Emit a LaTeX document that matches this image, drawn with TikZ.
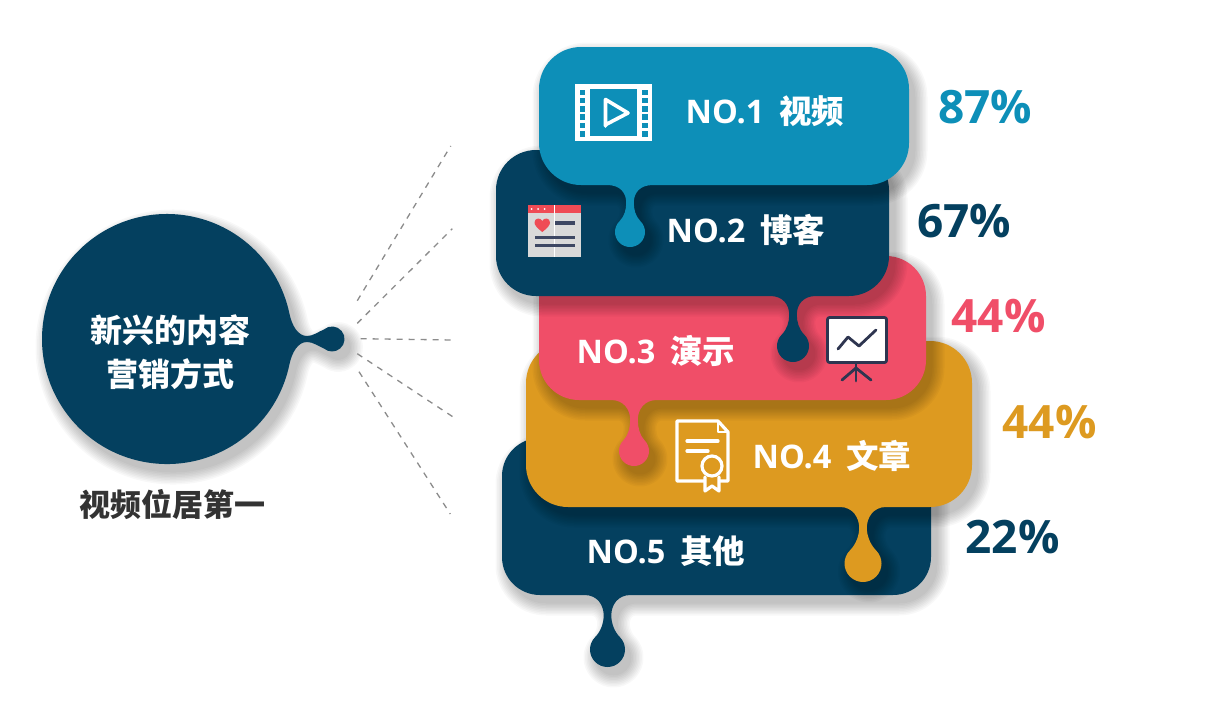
\documentclass[tikz,border=0pt]{standalone}
\usepackage{fontspec}
\setmainfont{Open Sans}
\newfontfamily\cjk{Noto Sans CJK SC}
\usetikzlibrary{calc}
\definecolor{teal1}{HTML}{0D8FB8}
\definecolor{navy1}{HTML}{04405F}
\definecolor{rose1}{HTML}{F04E68}
\definecolor{gold1}{HTML}{DD9A20}
\definecolor{inkd}{HTML}{2E3550}
\definecolor{blogline}{HTML}{3D4763}
\definecolor{blogred}{HTML}{EF4B55}
\definecolor{bloggray}{HTML}{D9D9D9}
\tikzset{
  x=1pt,y=-1pt,
  guide/.style={draw=black!45,line width=1.3pt,dash pattern=on 6pt off 6pt},
  rowlabel/.style={anchor=base west,inner sep=0pt,text=white,font=\bfseries\fontsize{32.5}{32.5}\selectfont},
  pct/.style={anchor=base,inner sep=0pt,font=\bfseries\fontsize{46}{46}\selectfont},
  lefttext/.style={inner sep=0pt,font=\cjk\bfseries\fontsize{32}{32}\selectfont},
  iconw/.style={draw=white,line width=3.2pt,line cap=round,line join=round},
  icond/.style={draw=inkd,line width=2.8pt,line cap=round,line join=round},
}
% bubble: x1 y1 x2 y2 r dropx dropr dropcy colour
\newcommand\bubblepath{%
  (\xa+\rr,\ya) -- (\xb-\rr,\ya) arc[start angle=-90,end angle=0,radius=\rr]
  -- (\xb,\yb-\rr) arc[start angle=0,end angle=90,radius=\rr]
  -- ({\dx+23},\yb) .. controls ({\dx+10},\yb) and ({\dx+\nk},{\nky-10}) .. ({\dx+\nk},\nky)
  .. controls ({\dx+\nk},{\nky+7}) and ({\dx+.36*\dr},{\cy-1.06*\dr}) .. ({\dx+.707*\dr},{\cy-.707*\dr})
  arc[start angle=-45,end angle=225,radius=\dr]
  .. controls ({\dx-.36*\dr},{\cy-1.06*\dr}) and ({\dx-\nk},{\nky+7}) .. ({\dx-\nk},\nky)
  .. controls ({\dx-\nk},{\nky-10}) and ({\dx-10},\yb) .. ({\dx-23},\yb)
  -- (\xa+\rr,\yb) arc[start angle=90,end angle=180,radius=\rr]
  -- (\xa,\ya+\rr) arc[start angle=180,end angle=270,radius=\rr] -- cycle}
\newcommand\softshadow[1]{%
  \foreach \w in {1,4,7,10,13,16,19,22,25}{%
    \begin{scope}[shift={(6,8)},transparency group,opacity=.028]
      \filldraw[black,line width=\w pt,line join=round] #1;
    \end{scope}}}
\newcommand\bubble[9]{%
  \def\xa{#1}\def\ya{#2}\def\xb{#3}\def\yb{#4}\def\rr{#5}\def\dx{#6}\def\dr{#7}\def\cy{#8}\def\nk{3.8}%
  \pgfmathsetmacro\nky{#4+0.55*(#8-#7-#4)}%
  \softshadow{\bubblepath}%
  \fill[#9] \bubblepath;}
\newcommand\hubpath{%
  (289.3,365) arc[start angle=12,end angle=348,radius=125]
  .. controls (292,326) and (298,336) .. (307,336)
  .. controls (313,336) and (318,332) .. (324,329.4)
  arc[start angle=230,end angle=490,radius=12.5]
  .. controls (318,346) and (313,342) .. (307,342)
  .. controls (298,342) and (292,352) .. (289.3,365) -- cycle}
\begin{document}
\begin{tikzpicture}
\useasboundingbox (0,0) rectangle (1205,707);
\fill[white] (0,0) rectangle (1205,707);

% hub
\softshadow{\hubpath}
\fill[navy1] \hubpath;
\node[lefttext,text=white] (hubA) at (170,330) {新兴的内容};
\node[lefttext,text=white] (hubB) at (170.5,374) {营销方式};
\node[lefttext,text=black!80,font=\cjk\bfseries\fontsize{31}{31}\selectfont] (sub) at (172.5,505) {视频位居第一};

% dashed rays
\coordinate (r1a) at (357.3,300.7); \coordinate (r1b) at (450.7,146);
\coordinate (r2a) at (357.3,323.3); \coordinate (r2b) at (452.3,228.7);
\coordinate (r3a) at (360.7,338.7); \coordinate (r3b) at (452.7,340);
\coordinate (r4a) at (357.3,353.7); \coordinate (r4b) at (452.7,416.7);
\coordinate (r5a) at (359,371.7);   \coordinate (r5b) at (450.3,514);
\draw[guide] (r1a) -- (r1b);
\draw[guide] (r2a) -- (r2b);
\draw[guide] (r3a) -- (r3b);
\draw[guide] (r4a) -- (r4b);
\draw[guide] (r5a) -- (r5b);

% bubbles, bottom to top
\bubble{502}{438}{931}{595}{38}{607.5}{17.5}{649.5}{navy1}
\bubble{526}{341}{972}{507}{42}{863}{18.5}{563.5}{gold1}
\bubble{539}{256}{926}{400}{40}{634}{15}{451}{rose1}
\bubble{496}{150}{889}{296}{40}{793}{16}{346}{navy1}
\bubble{539}{47}{909}{185}{42}{630}{15}{232}{teal1}

% row labels
\node[rowlabel] (l1) at (685.5,123) {NO.1\hspace{14.5pt}{\cjk 视频}};
\node[rowlabel] (l2) at (666.5,242) {NO.2\hspace{14.5pt}{\cjk 博客}};
\node[rowlabel] (l3) at (576.5,363) {NO.3\hspace{14.5pt}{\cjk 演示}};
\node[rowlabel] (l4) at (752.5,468) {NO.4\hspace{14.5pt}{\cjk 文章}};
\node[rowlabel] (l5) at (586.5,563) {NO.5\hspace{14.5pt}{\cjk 其他}};

% percentages
\node[pct,text=teal1] (p1) at (985,123) {87\%};
\node[pct,text=navy1] (p2) at (964,237) {67\%};
\node[pct,text=rose1] (p3) at (998.5,332) {44\%};
\node[pct,text=gold1] (p4) at (1049.5,438) {44\%};
\node[pct,text=navy1] (p5) at (1012.5,553) {22\%};

% film icon
\fill[white] (575,84) rectangle (652,141);
\fill[teal1] (590,89) rectangle (637,136);
\foreach \n in {0,...,5}{
  \fill[teal1] (579.5,{89.5+\n*8.3}) rectangle (585,{95+\n*8.3});
  \fill[teal1] (642,{89.5+\n*8.3}) rectangle (647.5,{95+\n*8.3});
}
\draw[iconw,line width=3.6pt] (605.5,126) -- (605.5,99.5) -- (628,113) -- (606,124.5);

% blog icon
\fill[bloggray] (528,205) rectangle (581,257);
\fill[blogred] (528,205) rectangle (581,213);
\draw[white,line width=.6pt] (554.3,205) -- (554.3,257);
\foreach \n in {531.5,538,544.5}{\fill[white] (\n,209) circle[radius=1];}
\fill[blogred] (542.3,232) .. controls (537,228) and (534.5,225) .. (534.5,222.5)
  .. controls (534.5,217.5) and (541,217.5) .. (542.3,221)
  .. controls (543.6,217.5) and (550,217.5) .. (550,222.5)
  .. controls (550,225) and (547.6,228) .. (542.3,232) -- cycle;
\draw[blogline,line width=3.2pt] (555,223) -- (575,223);
\draw[blogline,line width=3.2pt] (535,237.3) -- (575,237.3);
\draw[blogline,line width=3.2pt] (535,245.7) -- (575,245.7);

% presentation icon
\filldraw[icond,fill=white,rounded corners=2pt] (827.5,317.5) rectangle (886.5,362.5);
\draw[icond] (838,349) -- (848,337) -- (859,346) -- (876,330);
\draw[icond] (856,363) -- (856,381);
\draw[icond] (842,380) -- (856,368) -- (871,380);

% certificate icon
\draw[iconw] (718,421) -- (677,421) -- (677,481) -- (728,481) -- (728,432) -- cycle;
\draw[iconw,line width=1.6pt] (718,421) -- (718,432) -- (728,432);
\draw[iconw] (687,441) -- (718,441);
\draw[iconw] (687,451) -- (708,451);
\draw[iconw,fill=gold1] (705,477) -- (705,491) -- (712,486) -- (719,491) -- (719,477);
\filldraw[iconw,fill=gold1] (712,466) circle[radius=10];
\end{tikzpicture}
\end{document}
